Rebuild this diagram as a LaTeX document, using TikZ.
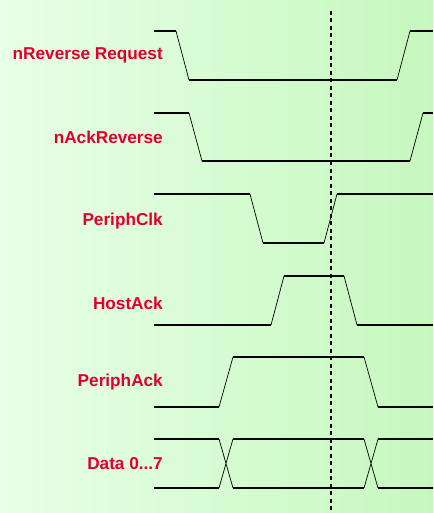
\documentclass[tikz,border=0pt]{standalone}
\usepackage{fontspec}
\setmainfont{Liberation Sans}
\definecolor{labelred}{HTML}{E0002C}
\definecolor{bgleft}{HTML}{E8FFE8}
\definecolor{bgright}{HTML}{C6F8BE}
\begin{document}
\begin{tikzpicture}[x=1pt,y=-1pt,
		level/.style={line width=1.8pt},
		edgeline/.style={line width=0.7pt},
		siglabel/.style={anchor=base east,inner sep=0pt,text=labelred,
		font=\fontsize{17.2}{20}\selectfont\bfseries}
		]
		% background
		\shade[left color=bgleft,right color=bgright] (0,0) rectangle (433,513);
		\useasboundingbox (0,0) rectangle (433,513);

		\node[siglabel](L1) at (163,60){nReverse Request};
		\node[siglabel](L2) at (163,143){nAckReverse};
		\node[siglabel](L3) at (163,225){PeriphClk};
		\node[siglabel](L4) at (163,309){HostAck};
		\node[siglabel](L5) at (163,386){PeriphAck};
		\node[siglabel](L6) at (163,469){Data 0...7};

		% nReverse Request
		\draw[level] (154,31) -- (176,31);
		\draw[edgeline] (176,31) -- (189,80);
		\draw[level] (189,80) -- (397,80);
		\draw[edgeline] (397,80) -- (410,31);
		\draw[level] (410,31) -- (433,31);
		% nAckReverse
		\draw[level] (154,113) -- (189,113);
		\draw[edgeline] (189,113) -- (202,161);
		\draw[level] (202,161) -- (410,161);
		\draw[edgeline] (410,161) -- (423,113);
		\draw[level] (423,113) -- (433,113);
		% PeriphClk
		\draw[level] (154,194) -- (250,194);
		\draw[edgeline] (250,194) -- (263,243);
		\draw[level] (263,243) -- (324,243);
		\draw[edgeline] (324,243) -- (337,194);
		\draw[level] (337,194) -- (433,194);
		% HostAck
		\draw[level] (154,325) -- (271,325);
		\draw[edgeline] (271,325) -- (284,276);
		\draw[level] (284,276) -- (344,276);
		\draw[edgeline] (344,276) -- (357,325);
		\draw[level] (357,325) -- (433,325);
		% PeriphAck
		\draw[level] (154,407) -- (219,407);
		\draw[edgeline] (219,407) -- (233,357);
		\draw[level] (233,357) -- (364,357);
		\draw[edgeline] (364,357) -- (378,407);
		\draw[level] (378,407) -- (433,407);
		% Data 0...7
		\foreach \y in {439,488}{
			\draw[level] (154,\y) -- (219,\y);
			\draw[level] (233,\y) -- (364,\y);
			\draw[level] (378,\y) -- (433,\y);
		}
		\draw[edgeline] (219,439) -- (233,488) (219,488) -- (233,439);
		\draw[edgeline] (364,439) -- (378,488) (364,488) -- (378,439);

		% marker
		\draw[line width=1.6pt,dash pattern=on 4pt off 3.5pt] (331,11) -- (331,513);
	\end{tikzpicture}
\end{document}
